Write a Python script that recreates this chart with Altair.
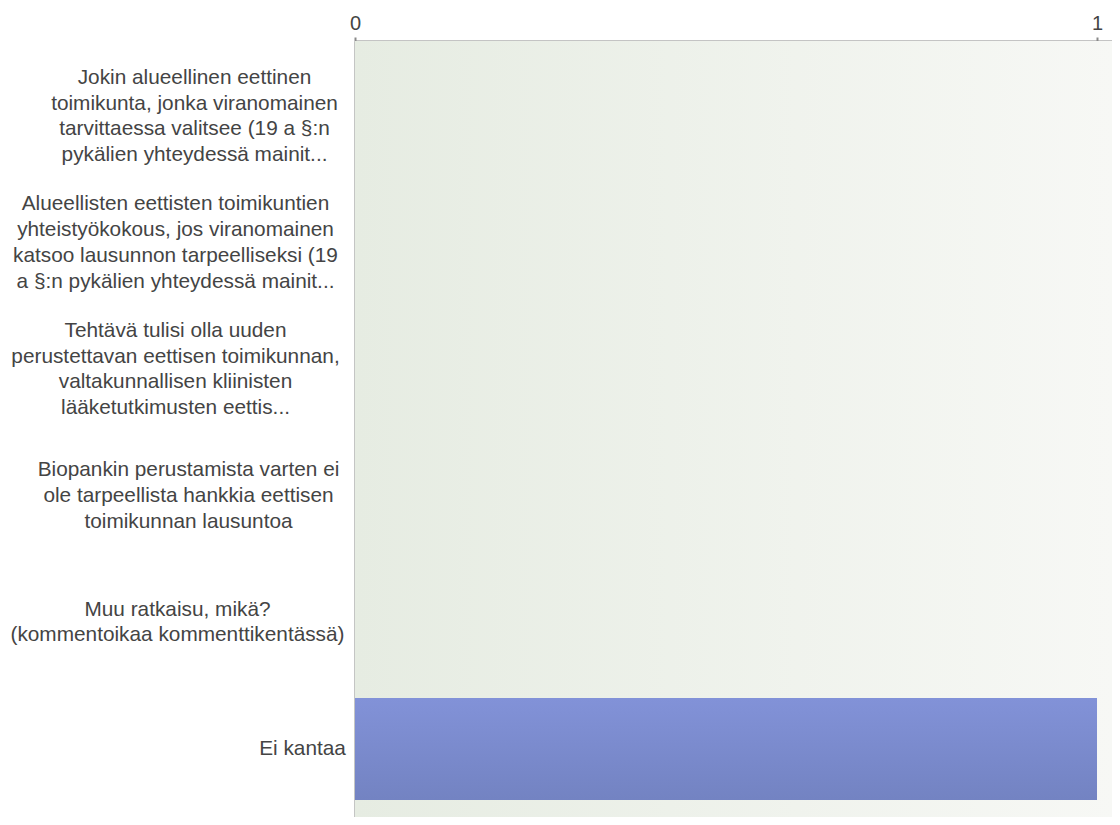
import json
import altair as alt
import pandas as pd

categories = [
    "Jokin alueellinen eettinen\ntoimikunta, jonka viranomainen\ntarvittaessa valitsee (19 a §:n\npykälien yhteydessä mainit...",
    "Alueellisten eettisten toimikuntien\nyhteistyökokous, jos viranomainen\nkatsoo lausunnon tarpeelliseksi (19\na §:n pykälien yhteydessä mainit...",
    "Tehtävä tulisi olla uuden\nperustettavan eettisen toimikunnan,\nvaltakunnallisen kliinisten\nlääketutkimusten eettis...",
    "Biopankin perustamista varten ei\nole tarpeellista hankkia eettisen\ntoimikunnan lausuntoa",
    "Muu ratkaisu, mikä?\n(kommentoikaa kommenttikentässä)",
    "Ei kantaa",
]
counts = [0, 0, 0, 0, 0, 1]
x_ticks = [0, 1]

# styling: distance from axis to the centre of each (centred) label block
label_pads = [161, 180, 180, 167, 178, 53]
LINE_H = 25.8

df = pd.DataFrame({"category": categories, "count": counts})

FONT = "Liberation Sans"
TEXT = "#444444"

pad_cond = {
    "condition": [
        {"test": "datum.value === " + json.dumps(c), "value": p}
        for c, p in zip(categories, label_pads)
    ],
    "value": 9,
}
# centre multi-line label blocks vertically on their band
offset_cond = {
    "condition": [
        {"test": "datum.value === " + json.dumps(c),
         "value": -(c.count("\n")) * LINE_H / 2}
        for c in categories
    ],
    "value": 0,
}

bar_grad = alt.LinearGradient(
    gradient="linear",
    stops=[
        alt.GradientStop(color="#8292D8", offset=0),
        alt.GradientStop(color="#7383C2", offset=1),
    ],
    x1=0, x2=0, y1=0, y2=1,
)

bg_grad = alt.LinearGradient(
    gradient="linear",
    stops=[
        alt.GradientStop(color="#E6ECE2", offset=0),
        alt.GradientStop(color="#F7F8F5", offset=1),
    ],
    x1=0, x2=1, y1=0, y2=0,
)

background = (
    alt.Chart(pd.DataFrame({"bg": [0]}))
    .mark_rect(color=bg_grad)
    .encode(
        x=alt.value(0),
        x2=alt.value("width"),
        y=alt.value(0),
        y2=alt.value("height"),
    )
)

bars = (
    alt.Chart(df)
    .mark_bar(color=bar_grad)
    .encode(
        x=alt.X(
            "count:Q",
            scale=alt.Scale(domain=[0, 1.0202], nice=False, zero=True),
            axis=alt.Axis(
                orient="top",
                values=x_ticks,
                format="d",
                title=None,
                grid=True,
                gridColor="#E0E2DF",
                gridWidth=2,
                domainColor="#8A8A8A",
                domainWidth=2,
                tickColor="#8A8A8A",
                tickWidth=2,
                tickSize=4,
                labelFlush=False,
                labelFont=FONT,
                labelFontSize=20,
                labelColor=TEXT,
                labelPadding=4,
            ),
        ),
        y=alt.Y(
            "category:N",
            sort=categories,
            scale=alt.Scale(paddingInner=0.194, paddingOuter=0.164, align=0.59),
            axis=alt.Axis(
                title=None,
                ticks=False,
                tickSize=0,
                domainColor="#999999",
                domainWidth=2,
                labelExpr="split(datum.label, '\\n')",
                labelAlign="center",
                labelBaseline="middle",
                labelPadding=pad_cond,
                labelOffset=offset_cond,
                labelLimit=0,
                labelFont=FONT,
                labelFontSize=20.8,
                labelLineHeight=LINE_H,
                labelColor=TEXT,
            ),
        ),
    )
)

chart = (
    alt.layer(background, bars)
    .properties(
        width=757,
        height=776,
        autosize=alt.AutoSizeParams(type="none"),
        padding={"left": 347, "top": 33, "right": 0, "bottom": 0},
    )
    .configure_view(strokeWidth=0)
)

chart.save("out.html", embed_options={"renderer": "svg", "actions": False})
